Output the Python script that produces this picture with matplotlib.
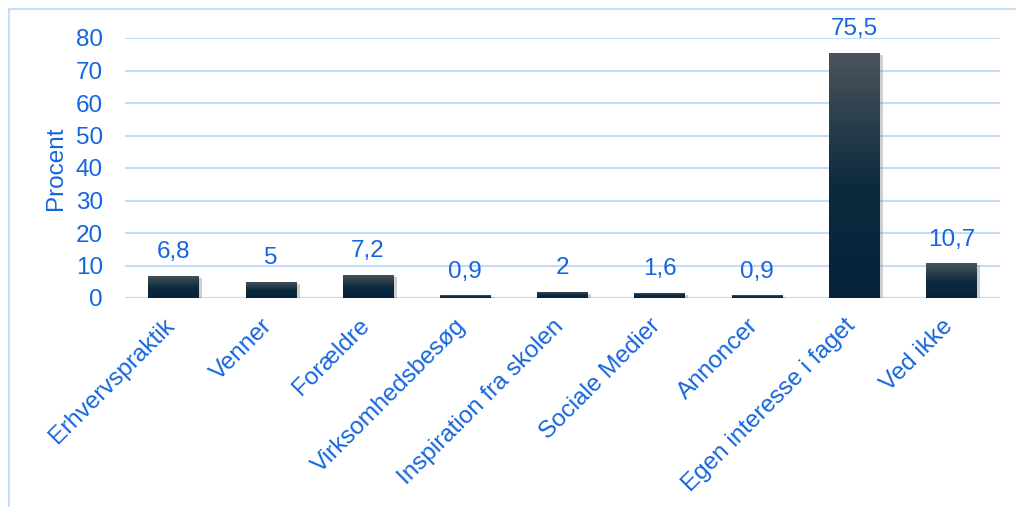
import numpy as np
import matplotlib
matplotlib.use("Agg")
import matplotlib.pyplot as plt
from matplotlib.colors import LinearSegmentedColormap
from matplotlib.patches import Rectangle
from matplotlib.transforms import ScaledTranslation
import matplotlib.patheffects as pe

categories = ["Erhvervspraktik", "Venner", "Forældre", "Virksomhedsbesøg",
              "Inspiration fra skolen", "Sociale Medier", "Annoncer",
              "Egen interesse i faget", "Ved ikke"]
values = [6.8, 5, 7.2, 0.9, 2, 1.6, 0.9, 75.5, 10.7]
value_labels = ["6,8", "5", "7,2", "0,9", "2", "1,6", "0,9", "75,5", "10,7"]
yticks = [0, 10, 20, 30, 40, 50, 60, 70, 80]

plt.rcParams['font.family'] = ['Liberation Sans', 'DejaVu Sans']
txt = '#1565de'
grid_c = '#c6dbf7'
fs = 17.5

fig = plt.figure(figsize=(10.16, 5.07), dpi=100)
fig.patches.append(Rectangle((9/1016, -0.1), 1.1, 1 - 9/507 + 0.1, transform=fig.transFigure,
                             fill=False, edgecolor='#c9dcf8', linewidth=1.5))
ax = fig.add_axes([125/1016, 1 - 298/507, 875/1016, 260/507])

x = np.arange(len(categories))
bars = ax.bar(x, values, width=0.52, color='#0b2a3e', zorder=3,
              path_effects=[pe.SimplePatchShadow(offset=(2.5, -1.5), shadow_rgbFace='#777777', alpha=0.35),
                            pe.Normal()])

cmap = LinearSegmentedColormap.from_list('g', [(0, '#07223a'), (0.45, '#0c2a3e'), (1, '#4b545c')])
grad = np.linspace(0, 1, 256).reshape(-1, 1)
for b in bars:
    x0, y0 = b.get_x(), b.get_y()
    w, h = b.get_width(), b.get_height()
    im = ax.imshow(grad, cmap=cmap, origin='lower', aspect='auto',
                   extent=[x0, x0 + w, y0, y0 + h], zorder=4)
    im.set_clip_path(b)

for xi, v, lab in zip(x, values, value_labels):
    ax.annotate(lab, (xi, v), xytext=(0, 9), textcoords='offset points',
                ha='center', va='bottom', color=txt, fontsize=fs, annotation_clip=False)

ax.set_xlim(-0.5, len(categories) - 0.5)
ax.set_ylim(0, 80)
ax.set_yticks(yticks)
ax.set_yticklabels([str(t) for t in yticks], color=txt, fontsize=fs)
ax.set_xticks(x)
ax.set_xticklabels([])
label_tr = ax.get_xaxis_transform() + ScaledTranslation(-10/100, -17/100, fig.dpi_scale_trans)
for xi, cat in zip(x, categories):
    ax.text(xi, 0, cat, transform=label_tr, rotation=45, ha='right', va='top',
            rotation_mode='anchor', color=txt, fontsize=fs, clip_on=False)
ax.tick_params(axis='both', length=0)
ax.tick_params(axis='y', pad=16)
ax.set_ylabel('Procent', color=txt, fontsize=fs, labelpad=6)
ax.grid(axis='y', color=grid_c, linewidth=1.5, zorder=0)
ax.set_axisbelow(True)
for s in ax.spines.values():
    s.set_visible(False)
ax.axhline(0, color=grid_c, linewidth=1.5, zorder=2)

fig.savefig('out.png', dpi=100)
